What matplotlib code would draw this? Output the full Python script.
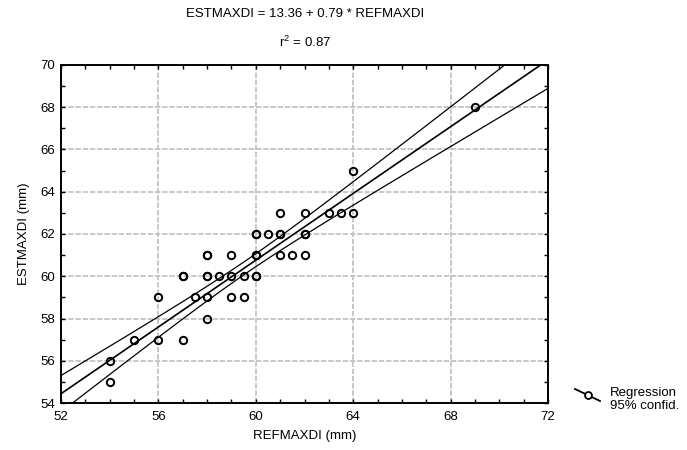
import matplotlib.pyplot as plt
import numpy as np
from matplotlib.lines import Line2D
from matplotlib.ticker import MultipleLocator

plt.rcParams['font.family'] = ['Liberation Sans', 'DejaVu Sans']

# datos (algunos puntos repetidos se ven mas gruesos)
refmaxdi = [64, 61, 62, 63, 63.5, 64, 60, 60.5, 61, 62, 58, 59, 60, 61, 61.5, 62,
            57, 58, 58.5, 59, 59.5, 60, 56, 57.5, 58, 59, 59.5, 58, 55, 56, 57,
            54, 54, 69,
            58, 58, 60, 60, 57, 62, 61, 60]
estmaxdi = [65, 63, 63, 63, 63, 63, 62, 62, 62, 62, 61, 61, 61, 61, 61, 61,
            60, 60, 60, 60, 60, 60, 59, 59, 59, 59, 59, 58, 57, 57, 57,
            56, 55, 68,
            60, 61, 61, 60, 60, 62, 62, 62]
intercept = 13.36
slope = 0.79
r2 = 0.87

x = np.array(refmaxdi)
y = np.array(estmaxdi)

fig = plt.figure(figsize=(6.87, 4.5), dpi=100)
ax = fig.add_axes([0.0888, 0.1044, 0.7089, 0.7512])

# recta y bandas de confianza 95%
xs = np.linspace(52, 72, 200)
yh = intercept + slope * xs
n = len(x)
res = y - (intercept + slope * x)
s = np.sqrt(np.sum(res**2) / (n - 2))
sxx = np.sum((x - x.mean())**2)
se = s * np.sqrt(1.0 / n + (xs - x.mean())**2 / sxx)
t = 2.02

ax.plot(xs, yh, color='black', lw=1.2)
ax.plot(xs, yh + t * se, color='black', lw=0.9)
ax.plot(xs, yh - t * se, color='black', lw=0.9)
ax.plot(x, y, 'o', ms=5.3, mfc='none', mec='black', mew=1.4, zorder=3)

ax.set_xlim(52, 72)
ax.set_ylim(54, 70)
ax.xaxis.set_major_locator(MultipleLocator(4))
ax.xaxis.set_minor_locator(MultipleLocator(1))
ax.yaxis.set_major_locator(MultipleLocator(2))
ax.yaxis.set_minor_locator(MultipleLocator(1))
ax.tick_params(which='both', direction='in', top=True, right=True,
               length=3, width=1, labelsize=9.5)
ax.tick_params(axis='x', pad=6)
ax.tick_params(axis='y', pad=4)
ax.grid(True, which='major', color='#c4c4c4', ls='--', lw=1.3, dashes=(3, 1))
for sp in ax.spines.values():
    sp.set_linewidth(1.4)

ax.set_xlabel('REFMAXDI (mm)', fontsize=9.5, labelpad=5)
ax.set_ylabel('ESTMAXDI (mm)', fontsize=9.5, labelpad=8)

fig.text(0.444, 0.968, 'ESTMAXDI = %.2f + %.2f * REFMAXDI' % (intercept, slope),
         ha='center', va='center', fontsize=9.5)
fig.text(0.444, 0.905, '$\\mathregular{r^2}$ = %.2f' % r2,
         ha='center', va='center', fontsize=9.5)

# leyenda
fig.add_artist(Line2D([575/687, 600/687], [1 - 389/450, 1 - 401/450],
                      color='black', lw=1.3))
fig.add_artist(Line2D([588/687], [1 - 395/450], marker='o', ms=5,
                      mfc='white', mec='black', mew=1.3))
fig.text(610/687, 1 - 393/450, 'Regression', fontsize=9.5, va='center')
fig.text(610/687, 1 - 406/450, '95% confid.', fontsize=9.5, va='center')

plt.savefig('out.png', dpi=100)
